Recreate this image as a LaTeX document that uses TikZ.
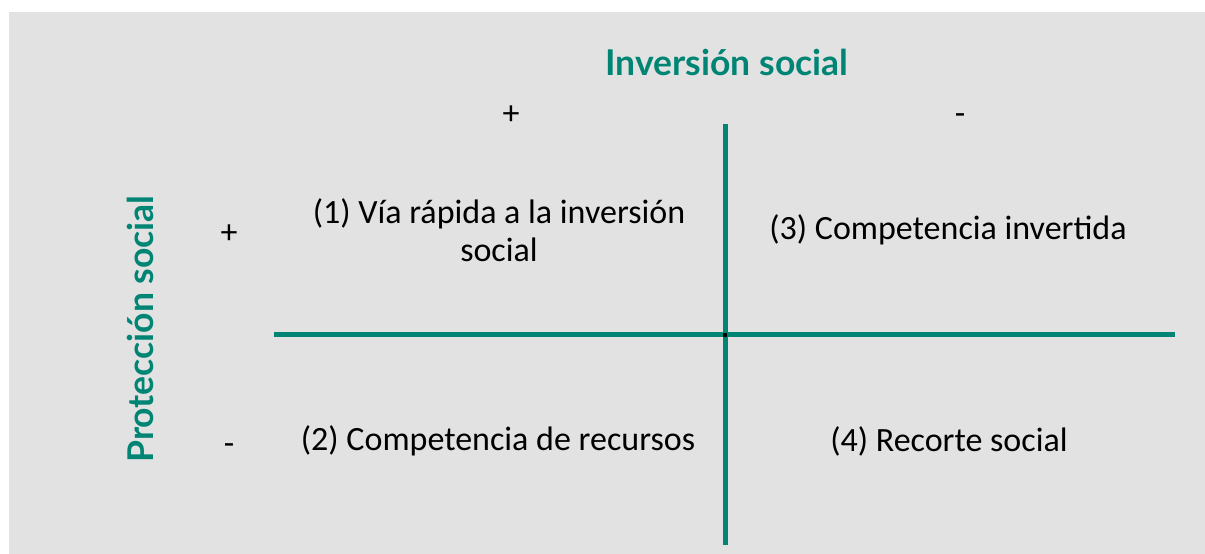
\documentclass[tikz,border=0pt]{standalone}
\usepackage{fontspec}
\setmainfont{Carlito}
\newfontfamily\headfont{Lato}
\usepackage{xcolor}
\usepackage{tikz}
\usetikzlibrary{positioning}
\definecolor{axisteal}{RGB}{0,133,117}
\definecolor{bggray}{RGB}{226,226,226}

\begin{document}
\begin{tikzpicture}[
    x=1pt, y=-1pt,
    cell/.style={align=center, font=\fontsize{34}{38}\selectfont, inner sep=0pt},
    sign/.style={font=\fontsize{34}{38}\selectfont, inner sep=0pt, text height=0.75em, text depth=0.25em},
    axislabel/.style={font=\headfont\bfseries\fontsize{35.5}{40}\selectfont, text=axisteal, inner sep=0pt},
    divider/.style={draw=axisteal, line width=5pt}
]
\useasboundingbox (0,0) rectangle (1205,554);
\fill[bggray] (9,12) rectangle (1205,554);
% axis titles
\node[axislabel] (inv) at (727,62) {Inversión social};
\node[axislabel, rotate=90] (prot) at (140,329) {Protección social};
% signs
\node[sign] (invplus) at (511,122) {+};
\node[sign] (invminus) at (960,122) {-};
\node[sign] (protplus) at (229,241) {+};
\node[sign] (protminus) at (229,452) {-};
% quadrants
\node[cell] (q1) at (499,230) {(1) Vía rápida a la inversión\\social};
\node[cell] (q3) at (948,230) {(3) Competencia invertida};
\node[cell] (q2) at (498,441) {(2) Competencia de recursos};
\node[cell] (q4) at (949,441) {(4) Recorte social};
% dividers
\coordinate (vtop) at (725.5,124);
\coordinate (vbot) at (725.5,545);
\coordinate (hleft) at (274,334.5);
\coordinate (hright) at (1175,334.5);
\draw[divider] (vtop) -- (vbot);
\draw[divider] (hleft) -- (hright);
\fill[black] (723,332.5) rectangle (727,336.5);
\end{tikzpicture}
\end{document}
